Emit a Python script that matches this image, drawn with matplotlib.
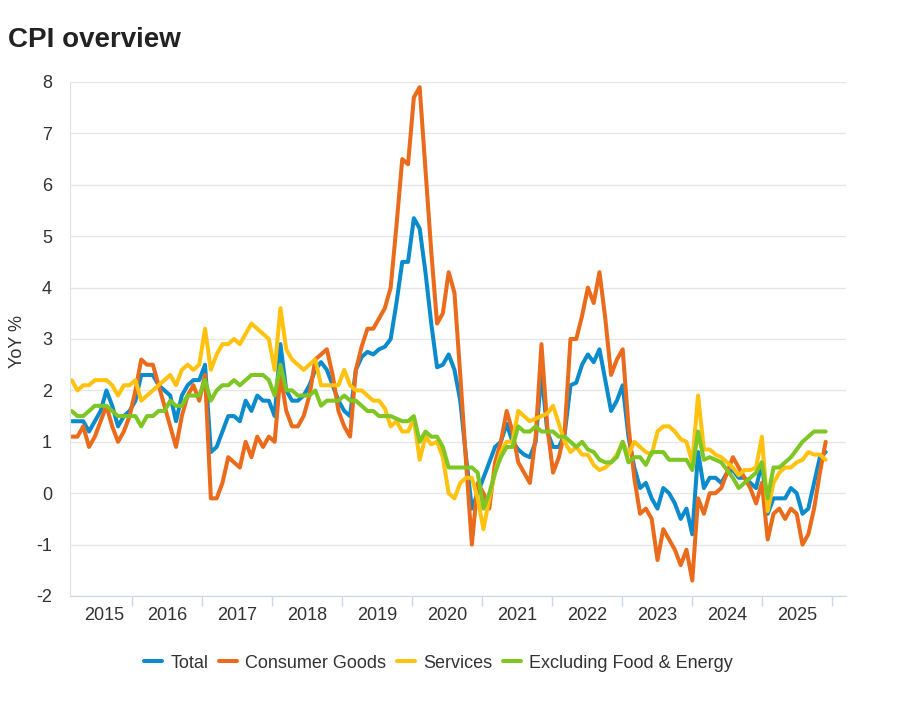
import matplotlib
matplotlib.use('Agg')
import matplotlib.pyplot as plt
import numpy as np

# Monthly YoY % values, Feb 2015 .. Dec 2025
years = [str(y) for y in range(2015, 2026)]

total = [
    1.4, 1.4, 1.4, 1.2, 1.4, 1.6, 2.0, 1.7, 1.3, 1.5,
    1.6, 1.8, 2.3, 2.3, 2.3, 2.1, 2.0, 1.9, 1.4, 1.9,
    2.1, 2.2, 2.2, 2.5, 0.8, 0.9, 1.2, 1.5, 1.5, 1.4,
    1.8, 1.6, 1.9, 1.8, 1.8, 1.5, 2.9, 2.0, 1.8, 1.8,
    1.9, 2.1, 2.4, 2.55, 2.4, 2.1, 1.8, 1.6, 1.5, 2.4,
    2.65, 2.75, 2.7, 2.8, 2.85, 3.0, 3.7, 4.5, 4.5, 5.35,
    5.15, 4.3, 3.3, 2.45, 2.5, 2.7, 2.4, 1.8, 0.7, -0.3,
    0.0, 0.3, 0.6, 0.9, 1.0, 1.35, 1.0, 0.85, 0.75, 0.7,
    1.0, 2.35, 1.2, 0.9, 0.9, 1.15, 2.1, 2.15, 2.5, 2.7,
    2.55, 2.8, 2.2, 1.6, 1.8, 2.1, 1.1, 0.5, 0.1, 0.2,
    -0.1, -0.3, 0.1, 0.0, -0.2, -0.5, -0.3, -0.8, 0.8, 0.1,
    0.3, 0.3, 0.2, 0.4, 0.45, 0.3, 0.3, 0.2, 0.1, 0.6,
    -0.4, -0.1, -0.1, -0.1, 0.1, 0.0, -0.4, -0.3, 0.2, 0.7,
    0.8,
]

consumer_goods = [
    1.1, 1.1, 1.3, 0.9, 1.1, 1.4, 1.7, 1.3, 1.0, 1.2,
    1.5, 2.0, 2.6, 2.5, 2.5, 2.1, 1.7, 1.3, 0.9, 1.5,
    1.9, 2.1, 1.8, 2.3, -0.1, -0.1, 0.2, 0.7, 0.6, 0.5,
    1.0, 0.7, 1.1, 0.9, 1.1, 1.0, 2.3, 1.6, 1.3, 1.3,
    1.5, 1.9, 2.6, 2.7, 2.8, 2.3, 1.6, 1.3, 1.1, 2.4,
    2.85, 3.2, 3.2, 3.4, 3.6, 4.0, 5.2, 6.5, 6.4, 7.7,
    7.9, 6.3, 4.7, 3.3, 3.5, 4.3, 3.9, 2.3, 0.6, -1.0,
    0.2, 0.0, -0.3, 0.6, 1.0, 1.6, 1.2, 0.6, 0.4, 0.2,
    1.1, 2.9, 1.3, 0.4, 0.7, 1.2, 3.0, 3.0, 3.45, 4.0,
    3.7, 4.3, 3.4, 2.3, 2.6, 2.8, 1.3, 0.3, -0.4, -0.3,
    -0.5, -1.3, -0.7, -0.9, -1.1, -1.4, -1.1, -1.7, -0.1, -0.4,
    0.0, 0.0, 0.1, 0.4, 0.7, 0.5, 0.3, 0.1, -0.2, 0.2,
    -0.9, -0.4, -0.3, -0.5, -0.3, -0.4, -1.0, -0.8, -0.3, 0.4,
    1.0,
]

services = [
    2.2, 2.0, 2.1, 2.1, 2.2, 2.2, 2.2, 2.1, 1.9, 2.1,
    2.1, 2.2, 1.8, 1.9, 2.0, 2.1, 2.2, 2.3, 2.1, 2.4,
    2.5, 2.4, 2.5, 3.2, 2.4, 2.7, 2.9, 2.9, 3.0, 2.9,
    3.1, 3.3, 3.2, 3.1, 3.0, 2.4, 3.6, 2.8, 2.6, 2.5,
    2.4, 2.5, 2.6, 2.1, 2.1, 2.1, 2.1, 2.4, 2.1, 2.0,
    2.0, 1.9, 1.8, 1.8, 1.65, 1.3, 1.4, 1.2, 1.2, 1.45,
    0.65, 1.1, 0.95, 1.0, 0.7, 0.0, -0.1, 0.2, 0.3, 0.3,
    -0.1, -0.7, -0.1, 0.4, 0.8, 1.0, 1.0, 1.6, 1.5, 1.4,
    1.45, 1.5, 1.55, 1.7, 1.35, 1.0, 0.8, 0.9, 0.75, 0.75,
    0.55, 0.45, 0.5, 0.6, 0.75, 1.0, 0.75, 1.0, 0.9, 0.8,
    0.75, 1.2, 1.3, 1.3, 1.2, 1.05, 1.0, 0.6, 1.9, 0.85,
    0.85, 0.75, 0.7, 0.6, 0.5, 0.35, 0.45, 0.45, 0.5, 1.1,
    -0.35, 0.2, 0.4, 0.5, 0.5, 0.6, 0.65, 0.8, 0.75, 0.75,
    0.65,
]

excl_food_energy = [
    1.6, 1.5, 1.5, 1.6, 1.7, 1.7, 1.7, 1.6, 1.5, 1.5,
    1.5, 1.5, 1.3, 1.5, 1.5, 1.6, 1.6, 1.8, 1.7, 1.7,
    1.9, 1.9, 1.9, 2.2, 1.8, 2.0, 2.1, 2.1, 2.2, 2.1,
    2.2, 2.3, 2.3, 2.3, 2.2, 1.9, 2.5, 2.0, 2.0, 1.9,
    1.9, 1.9, 2.0, 1.7, 1.8, 1.8, 1.8, 1.9, 1.8, 1.8,
    1.7, 1.6, 1.6, 1.5, 1.5, 1.5, 1.45, 1.4, 1.4, 1.5,
    1.0, 1.2, 1.1, 1.1, 0.9, 0.5, 0.5, 0.5, 0.5, 0.5,
    0.4, -0.3, 0.0, 0.4, 0.7, 0.9, 0.9, 1.3, 1.2, 1.2,
    1.3, 1.2, 1.2, 1.2, 1.1, 1.1, 1.0, 0.9, 1.0, 0.85,
    0.8, 0.65, 0.6, 0.6, 0.7, 1.0, 0.6, 0.7, 0.7, 0.55,
    0.8, 0.8, 0.8, 0.65, 0.65, 0.65, 0.65, 0.45, 1.2, 0.65,
    0.7, 0.65, 0.6, 0.45, 0.3, 0.1, 0.2, 0.3, 0.4, 0.6,
    -0.1, 0.5, 0.5, 0.6, 0.7, 0.85, 1.0, 1.1, 1.2, 1.2,
    1.2,
]

series_names = ['Total', 'Consumer Goods', 'Services', 'Excluding Food & Energy']
colors = ['#0b8bcb', '#ea6b1b', '#ffc20e', '#7dc623']

plt.rcParams['font.family'] = ['Liberation Sans', 'DejaVu Sans']
plt.rcParams['axes.unicode_minus'] = False

fig = plt.figure(figsize=(9.08, 7.2), dpi=100)
ax = fig.add_axes([70 / 908, 1 - 596 / 720, 776 / 908, 514 / 720])

x = np.arange(len(total))
for vals, name, c in zip([total, consumer_goods, services, excl_food_energy], series_names, colors):
    ax.plot(x, vals, color=c, lw=2.9, label=name, solid_joinstyle='round', solid_capstyle='round')

ax.set_xlim(-0.28, 133.5)
ax.set_ylim(-2, 8)

# y axis: gridlines, no tick marks
ax.set_yticks(range(-2, 9))
ax.grid(axis='y', color='#e6e6e6', lw=1)
ax.set_axisbelow(True)
ax.tick_params(axis='y', length=0, pad=13, labelsize=13, labelcolor='#333333')

# x axis: tick marks at year boundaries, year labels centred between them
year_ticks = [10.4 + 12.07 * k for k in range(11)]
label_pos = [5.6] + [(a + b) / 2 for a, b in zip(year_ticks[:-1], year_ticks[1:])]
ax.set_xticks(year_ticks)
ax.set_xticklabels([])
ax.set_xticks(label_pos, minor=True)
ax.set_xticklabels(years, minor=True)
ax.tick_params(axis='x', which='major', length=7.5, width=1, color='#ccd6eb')
ax.tick_params(axis='x', which='minor', length=0, pad=8, labelsize=13, labelcolor='#333333')

for side in ['top', 'right']:
    ax.spines[side].set_visible(False)
ax.spines['bottom'].set_color('#ccd6eb')
ax.spines['left'].set_color('#e0e0e0')

fig.text(18 / 908, 1 - 341 / 720, 'YoY %', rotation=90, ha='center', va='center',
         fontsize=13, color='#333333')
fig.text(8 / 908, 1 - 40 / 720, 'CPI overview', ha='left', va='center',
         fontsize=20, fontweight='bold', color='#222222')

fig.legend(loc='center', bbox_to_anchor=(438.5 / 908, 1 - 663 / 720), ncol=4, frameon=False,
           fontsize=13, handlelength=1.0, handletextpad=0.45, columnspacing=0.6,
           labelcolor='#333333')

fig.savefig('out.png', dpi=100)
